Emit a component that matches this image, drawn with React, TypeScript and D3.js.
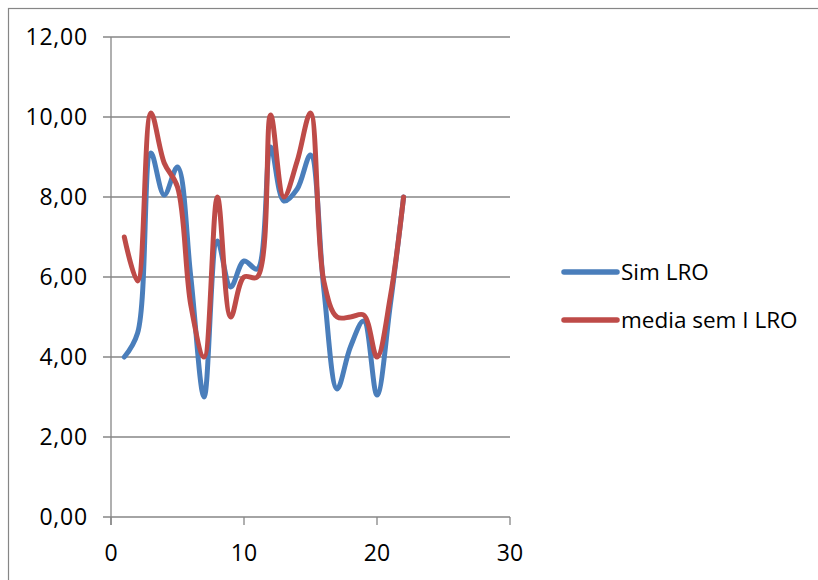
import React from 'react';
import * as d3 from 'd3';

const xValues = [1, 2, 3, 4, 5, 6, 7, 8, 9, 10, 11, 12, 13, 14, 15, 16, 17, 18, 19, 20, 21, 22];
const simLRO = [4.0, 4.6, 9.1, 8.05, 8.75, 6.0, 3.0, 6.9, 5.75, 6.4, 6.2, 9.25, 7.9, 8.2, 9.05, 5.7, 3.2, 4.25, 4.9, 3.05, 5.3, 8.0];
const mediaSemLRO = [7.0, 5.9, 10.1, 8.85, 8.25, 5.3, 4.0, 8.0, 5.0, 6.0, 6.0, 10.05, 8.0, 8.9, 10.1, 5.9, 5.0, 5.0, 5.05, 4.0, 5.5, 8.0];
const xTicks = [0, 10, 20, 30];
const yTicks = [0, 2, 4, 6, 8, 10, 12];
const seriesNames = ['Sim LRO', 'media sem I LRO'];
const seriesColors = ['#4A7EBB', '#BE4B48'];

export default function App() {
  const x = d3.scaleLinear().domain([0, 30]).range([111, 510]);
  const y = d3.scaleLinear().domain([0, 12]).range([517, 37]);
  const line = d3
    .line<number>()
    .x((_, i) => x(xValues[i]))
    .y((d) => y(d))
    .curve(d3.curveCatmullRom.alpha(0.5));
  const fmt = (v: number) => d3.format('.2f')(v).replace('.', ',');
  const axisColor = '#868686';
  const font = "'Open Sans', sans-serif";
  const series = [simLRO, mediaSemLRO];

  return (
    <svg width={818} height={580} style={{ position: 'absolute', left: 0, top: 0 }}>
      <rect x={0} y={0} width={818} height={580} fill="#fff" />
      <rect x={8.5} y={8.5} width={820} height={590} fill="none" stroke={axisColor} strokeWidth={1.2} />
      {yTicks.map((t) => (
        <g key={'y' + t}>
          <line x1={103} x2={x(30)} y1={y(t)} y2={y(t)} stroke={axisColor} strokeWidth={1.3} />
          <text x={88} y={y(t)} dy="0.35em" textAnchor="end" fontFamily={font} fontSize={23} letterSpacing={0.8} fill="#000">
            {fmt(t)}
          </text>
        </g>
      ))}
      <line x1={x(0)} x2={x(0)} y1={y(12)} y2={y(0) + 8} stroke={axisColor} strokeWidth={1.3} />
      {xTicks.map((t) => (
        <g key={'x' + t}>
          <line x1={x(t)} x2={x(t)} y1={y(0)} y2={y(0) + 8} stroke={axisColor} strokeWidth={1.3} />
          <text x={x(t)} y={553} dy="0.35em" textAnchor="middle" fontFamily={font} fontSize={23} fill="#000">
            {t}
          </text>
        </g>
      ))}
      {series.map((s, i) => (
        <path
          key={'s' + i}
          d={line(s) || ''}
          fill="none"
          stroke={seriesColors[i]}
          strokeWidth={5}
          strokeLinejoin="round"
          strokeLinecap="round"
        />
      ))}
      {seriesNames.map((n, i) => {
        const ly = 272 + i * 48;
        return (
          <g key={'l' + i}>
            <line x1={564} x2={617} y1={ly} y2={ly} stroke={seriesColors[i]} strokeWidth={5.5} strokeLinecap="round" />
            <text x={621} y={ly} dy="0.35em" fontFamily={font} fontSize={22.5} fill="#000">
              {n}
            </text>
          </g>
        );
      })}
    </svg>
  );
}
